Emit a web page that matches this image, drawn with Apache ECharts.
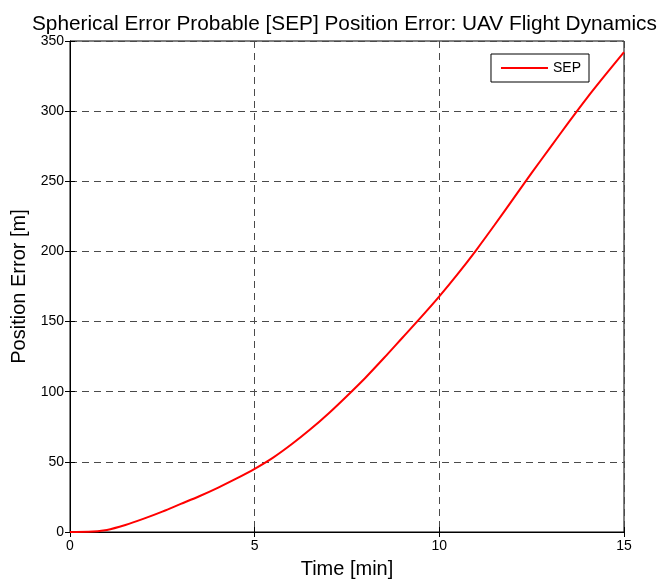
<!DOCTYPE html>
<html>
<head>
<meta charset="utf-8">
<script src="https://cdn.jsdelivr.net/npm/echarts@6/dist/echarts.min.js"></script>
<style>html,body{margin:0;padding:0;background:#fff}#c{width:662px;height:580px}</style>
</head>
<body>
<div id="c"></div>
<script>
var timeMin = [0,0.5,1,1.5,2,2.5,3,3.5,4,4.5,5,5.5,6,6.5,7,7.5,8,8.5,9,9.5,10,10.5,11,11.5,12,12.5,13,13.5,14,14.5,15];
var sepValues = [0,0.1,1.5,5,9.5,14.5,20,25.5,31.5,38,45,53,62.5,73,84.5,97,110,124,138.5,153,168,184,201,219,237.5,256,274,292,309.5,326,342];
var xTicks = [0,5,10,15];
var yTicks = [0,50,100,150,200,250,300,350];

var font = 'Liberation Sans, Arial, sans-serif';
var pts = timeMin.map(function(t,i){return [t, sepValues[i]];});
var chart = echarts.init(document.getElementById('c'));
var gridStyle = {show:true, lineStyle:{color:'#4a4a4a', type:[7,5], width:1}};
chart.setOption({
  animation:false,
  backgroundColor:'#fff',
  title:{text:'Spherical Error Probable [SEP] Position Error: UAV Flight Dynamics', left:27, top:9,
    textStyle:{fontFamily:font, fontSize:20.8, fontWeight:'normal', color:'#000'}},
  legend:{data:['SEP'], right:73, top:54, orient:'vertical', borderColor:'#000', borderWidth:1, backgroundColor:'#fff',
    padding:[7,8,7,9], itemWidth:47, itemHeight:2, itemGap:8, borderRadius:0,
    textStyle:{fontFamily:font, fontSize:14, color:'#000'}},
  grid:{left:70, right:38, top:41, bottom:48, show:true, borderColor:'#000', borderWidth:1, backgroundColor:'transparent',
    outerBoundsMode:'none', containLabel:false},
  xAxis:[{type:'value', min:xTicks[0], max:xTicks[xTicks.length-1], interval:5,
    name:'Time [min]', nameLocation:'middle', nameGap:27,
    nameTextStyle:{fontFamily:font, fontSize:20, color:'#000'},
    axisLine:{show:true, lineStyle:{color:'#000'}},
    axisTick:{show:true, inside:true, length:5, lineStyle:{color:'#000'}},
    axisLabel:{fontFamily:font, fontSize:14, color:'#000', margin:7},
    splitLine:gridStyle},
    {type:'value', position:'top', min:0, max:15, interval:5, axisLine:{show:false},
    axisTick:{show:true, inside:true, length:5, lineStyle:{color:'#000'}}, axisLabel:{show:false}, splitLine:{show:false}}],
  yAxis:[{type:'value', min:yTicks[0], max:yTicks[yTicks.length-1], interval:50,
    name:'Position Error [m]', nameLocation:'middle', nameGap:37,
    nameTextStyle:{fontFamily:font, fontSize:20, color:'#000'},
    axisLine:{show:true, lineStyle:{color:'#000'}},
    axisTick:{show:true, inside:true, length:5, lineStyle:{color:'#000'}},
    axisLabel:{fontFamily:font, fontSize:14, color:'#000', margin:6},
    splitLine:gridStyle},
    {type:'value', position:'right', min:0, max:350, interval:50, axisLine:{show:false},
    axisTick:{show:true, inside:true, length:5, lineStyle:{color:'#000'}}, axisLabel:{show:false}, splitLine:{show:false}}],
  series:[{name:'SEP', type:'line', data:pts, smooth:0.3, showSymbol:false, symbol:'none',
    lineStyle:{color:'#ff0000', width:2}, itemStyle:{color:'#ff0000'}}]
});
</script>
</body>
</html>
